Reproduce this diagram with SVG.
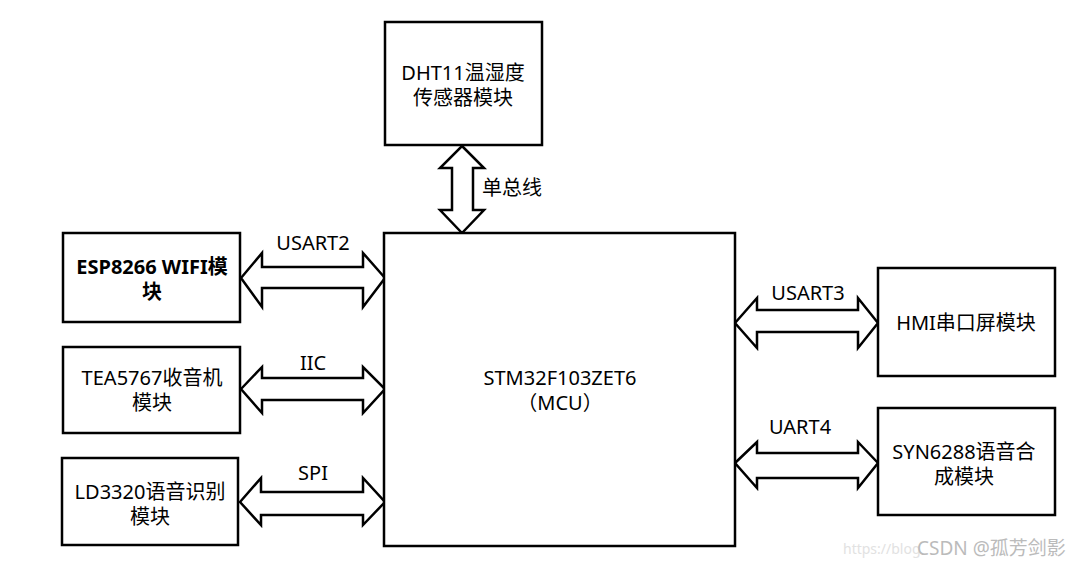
<svg xmlns="http://www.w3.org/2000/svg" width="1080" height="565" viewBox="0 0 1080 565">
<style>
.box{fill:#fff;stroke:#000;stroke-width:2.5}
.arr{fill:#fff;stroke:#000;stroke-width:2.5;stroke-linejoin:miter}
text{font-family:"Noto Sans","Noto Sans CJK SC",sans-serif;font-size:20px;fill:#000;text-anchor:middle}
.b{font-weight:bold}
.wm{fill:#bbb;font-size:19px;text-anchor:start}
</style>
<rect width="1080" height="565" fill="#fff"/>
<g id="connectors">
<polygon class="arr" points="462,146 484,168 473,168 473,210 484,210 462,233 440,210 452,210 452,168 440,168"/>
<text x="512" y="195">单总线</text>
<polygon class="arr" points="241,278 262,253 262,267 363,267 363,253 385,278 363,307 363,288 262,288 262,307"/>
<text x="313" y="250">USART2</text>
<polygon class="arr" points="241,389 262,367 262,378 363,378 363,367 385,389 363,413 363,400 262,400 262,413"/>
<text x="313" y="370">IIC</text>
<polygon class="arr" points="240,502 261,478 261,492 363,492 363,478 385,502 363,525 363,515 261,515 261,525"/>
<text x="313" y="480">SPI</text>
<polygon class="arr" points="735,323 757,298 757,310 858,310 858,298 878,323 858,348 858,332 757,332 757,348"/>
<text x="808" y="300">USART3</text>
<polygon class="arr" points="735,463 757,442 757,453 858,453 858,442 878,463 858,488 858,478 757,478 757,488"/>
<text x="800" y="434">UART4</text>
</g>
<g id="dht11">
<rect class="box" x="385" y="22" width="157" height="123"/>
<text x="463" y="80">DHT11温湿度</text>
<text x="463" y="105">传感器模块</text>
</g>
<g id="mcu">
<rect class="box" x="384" y="233" width="351" height="313"/>
<text x="560" y="385">STM32F103ZET6</text>
<text x="560" y="410">（MCU）</text>
</g>
<g id="esp8266">
<rect class="box" x="63" y="233" width="177" height="89"/>
<text class="b" x="152" y="274">ESP8266 WIFI模</text>
<text class="b" x="152" y="299">块</text>
</g>
<g id="tea5767">
<rect class="box" x="63" y="347" width="177" height="86"/>
<text x="152" y="385">TEA5767收音机</text>
<text x="152" y="410">模块</text>
</g>
<g id="ld3320">
<rect class="box" x="62" y="458" width="176" height="87"/>
<text x="150" y="499">LD3320语音识别</text>
<text x="150" y="524">模块</text>
</g>
<g id="hmi">
<rect class="box" x="878" y="268" width="177" height="108"/>
<text x="966" y="330">HMI串口屏模块</text>
</g>
<g id="syn6288">
<rect class="box" x="878" y="408" width="177" height="107"/>
<text x="964" y="459">SYN6288语音合</text>
<text x="964" y="484">成模块</text>
</g>
<text class="wm" x="843" y="554" style="fill:#e2e2e2;font-size:14px">https://blog</text>
<text class="wm" x="917" y="555">CSDN @孤芳剑影</text>
</svg>
